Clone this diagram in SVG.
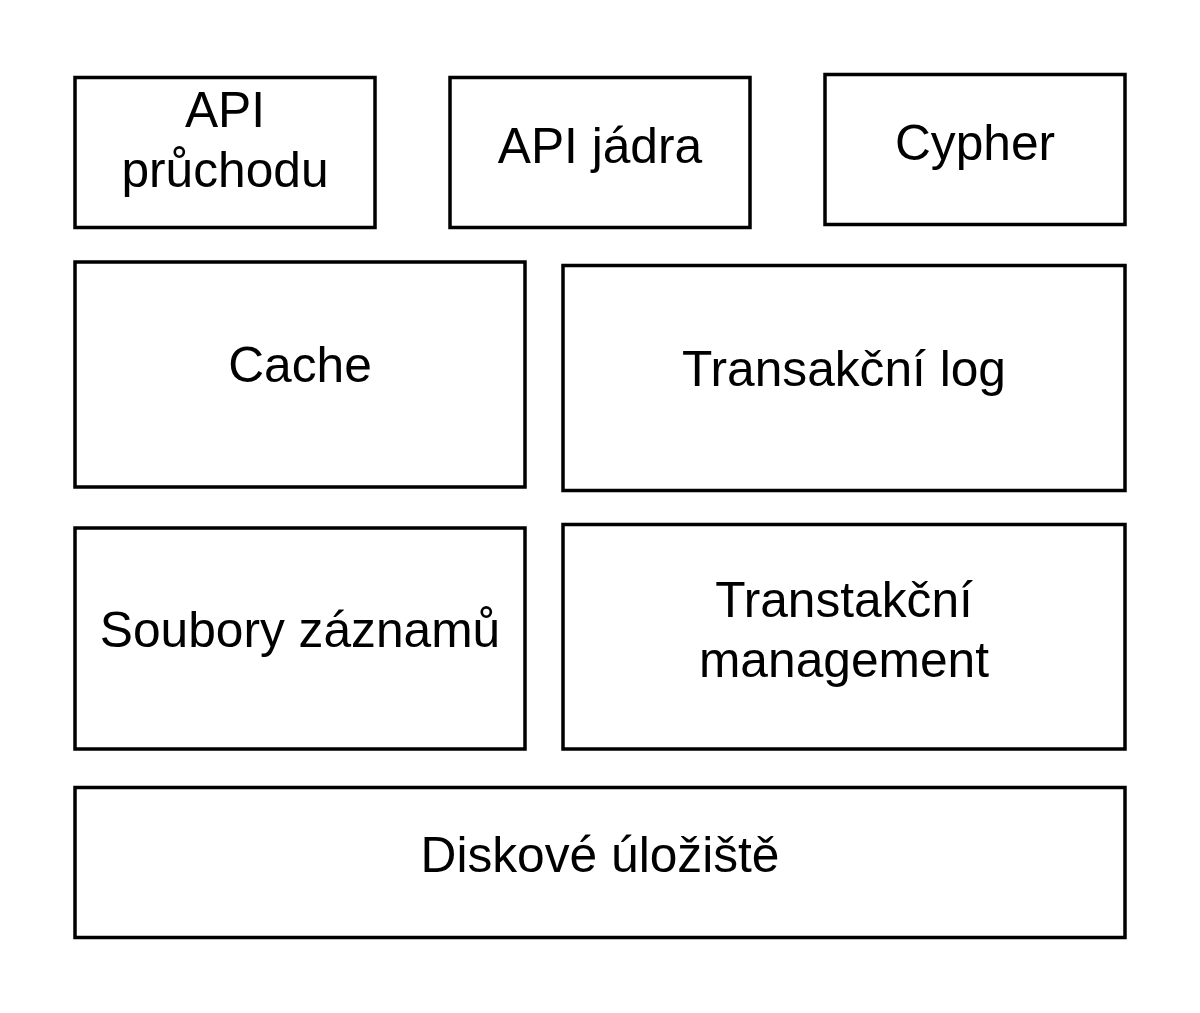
<svg xmlns="http://www.w3.org/2000/svg" width="1200" height="1013" viewBox="0 0 1200 1013">
<style>
.box{fill:#fff;stroke:#000;stroke-width:3.5}
.lbl{font-family:"Liberation Sans",Arial,sans-serif;font-size:49.7px;fill:#000;text-anchor:middle}
</style>
<rect width="1200" height="1013" fill="#fff"/>
<g id="connectors"></g>
<g id="api-pruchodu"><rect class="box" x="75" y="77.5" width="300" height="150"/><text class="lbl" x="225" y="127">API</text><text class="lbl" x="225" y="187">průchodu</text></g>
<g id="api-jadra"><rect class="box" x="450" y="77.5" width="300" height="150"/><text class="lbl" x="600" y="163">API jádra</text></g>
<g id="cypher"><rect class="box" x="825" y="74.5" width="300" height="150"/><text class="lbl" x="975" y="160">Cypher</text></g>
<g id="cache"><rect class="box" x="75" y="262" width="450" height="225"/><text class="lbl" x="300" y="382">Cache</text></g>
<g id="transakcni-log"><rect class="box" x="563" y="265.5" width="562" height="225"/><text class="lbl" x="844" y="386">Transakční log</text></g>
<g id="soubory"><rect class="box" x="75" y="528" width="450" height="221"/><text class="lbl" x="300" y="647">Soubory záznamů</text></g>
<g id="transtakcni-management"><rect class="box" x="563" y="524.5" width="562" height="224.5"/><text class="lbl" x="844" y="617">Transtakční</text><text class="lbl" x="844" y="677">management</text></g>
<g id="diskove-uloziste"><rect class="box" x="75" y="787.5" width="1050" height="150"/><text class="lbl" x="600" y="872">Diskové úložiště</text></g>
</svg>
